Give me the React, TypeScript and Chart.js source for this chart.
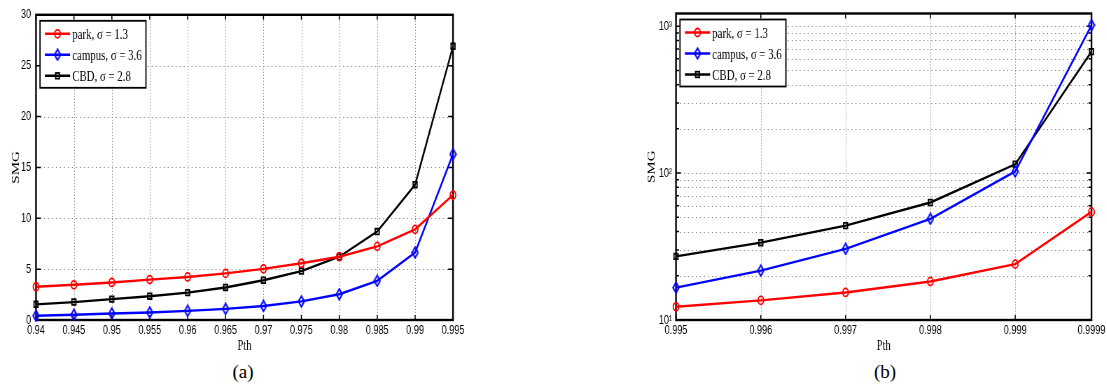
import React, { useEffect, useRef } from 'react';
import { Chart, registerables } from 'chart.js';

Chart.register(...registerables);

// horizontal squeeze of the original figure
const SX = 0.7;

// ---------- data: panel (a) ----------
const pthA = [0.94, 0.945, 0.95, 0.955, 0.96, 0.965, 0.97, 0.975, 0.98, 0.985, 0.99, 0.995];
const xLabelsA = ['0.94', '0.945', '0.95', '0.955', '0.96', '0.965', '0.97', '0.975', '0.98', '0.985', '0.99', '0.995'];
const parkA = [3.27, 3.46, 3.69, 3.97, 4.23, 4.58, 5.03, 5.58, 6.22, 7.24, 8.91, 12.28];
const campusA = [0.42, 0.51, 0.64, 0.74, 0.9, 1.09, 1.38, 1.83, 2.53, 3.85, 6.63, 16.3];
const cbdA = [1.54, 1.76, 2.05, 2.34, 2.69, 3.2, 3.91, 4.81, 6.22, 8.69, 13.3, 26.9];
const yTicksA = [0, 5, 10, 15, 20, 25, 30];

// ---------- data: panel (b) ----------
const pthB = [0.995, 0.996, 0.997, 0.998, 0.999, 0.9999];
const xLabelsB = ['0.995', '0.996', '0.997', '0.998', '0.999', '0.9999'];
const parkB = [12.3, 13.6, 15.4, 18.3, 24.0, 54.4];
const campusB = [16.6, 21.7, 30.5, 48.8, 102.6, 1016];
const cbdB = [27.1, 33.6, 43.9, 63.1, 114.8, 671];
const yMajorB = [10, 100, 1000];
const yMajorLabelsB = ['10\u00b9', '10\u00b2', '10\u00b3'];
const yMinorB = [20, 30, 40, 50, 60, 70, 80, 90, 200, 300, 400, 500, 600, 700, 800, 900];

const legendLabels = ['park, \u03c3 = 1.3', 'campus, \u03c3 = 3.6', 'CBD, \u03c3 = 2.8'];

const SERIF = '"Liberation Serif", "Times New Roman", serif';
const SANS = '"Liberation Sans", Arial, sans-serif';

type Marker = 'circle' | 'diamond' | 'square';
type Series = { label: string; color: string; marker: Marker; values: number[] };
type Spec = {
  xs: number[];
  xLabels: string[];
  xMin: number;
  xMax: number;
  yType: 'linear' | 'logarithmic';
  yMin: number;
  yMax: number;
  yTicks: { value: number; major: boolean }[];
  yLabel: (v: number) => string;
  series: Series[];
  canvasW: number;
  yAxisW: number;
  padRight: number;
  yTitlePad: number;
  yTickPad: number;
};

let diamondCache: HTMLCanvasElement | null = null;
function diamondCanvas(): HTMLCanvasElement {
  if (diamondCache) return diamondCache;
  const c = document.createElement('canvas');
  c.width = 11;
  c.height = 13;
  const g = c.getContext('2d')!;
  g.strokeStyle = '#0000ff';
  g.lineWidth = 2;
  g.beginPath();
  g.moveTo(5.5, 1.2);
  g.lineTo(9.8, 6.5);
  g.lineTo(5.5, 11.8);
  g.lineTo(1.2, 6.5);
  g.closePath();
  g.stroke();
  diamondCache = c;
  return c;
}

function drawMarker(ctx: CanvasRenderingContext2D, m: Marker, x: number, y: number, color: string) {
  ctx.save();
  ctx.strokeStyle = color;
  ctx.lineWidth = 1.8;
  if (m === 'circle') {
    ctx.beginPath();
    ctx.arc(x, y, 4, 0, Math.PI * 2);
    ctx.stroke();
  } else if (m === 'square') {
    ctx.strokeRect(x - 2.8, y - 2.8, 5.6, 5.6);
  } else {
    const d = diamondCanvas();
    ctx.drawImage(d, x - d.width / 2, y - d.height / 2);
  }
  ctx.restore();
}

function makeSeries(park: number[], campus: number[], cbd: number[]): Series[] {
  return [
    { label: legendLabels[0], color: '#ff0000', marker: 'circle', values: park },
    { label: legendLabels[1], color: '#0000ff', marker: 'diamond', values: campus },
    { label: legendLabels[2], color: '#000000', marker: 'square', values: cbd },
  ];
}

const specA: Spec = {
  xs: pthA,
  xLabels: xLabelsA,
  xMin: 0.94,
  xMax: 0.995,
  yType: 'linear',
  yMin: 0,
  yMax: 30,
  yTicks: yTicksA.map((v) => ({ value: v, major: true })),
  yLabel: (v) => String(v),
  series: makeSeries(parkA, campusA, cbdA),
  canvasW: 700,
  yAxisW: 36 / SX,
  padRight: 700 - 453 / SX,
  yTitlePad: 14,
  yTickPad: 7,
};

const specB: Spec = {
  xs: pthB,
  xLabels: xLabelsB,
  xMin: 0.995,
  xMax: 0.9999,
  yType: 'logarithmic',
  yMin: 10,
  yMax: 1220,
  yTicks: [
    ...yMajorB.map((v) => ({ value: v, major: true })),
    ...yMinorB.map((v) => ({ value: v, major: false })),
  ].sort((a, b) => a.value - b.value),
  yLabel: (v) => {
    const i = yMajorB.indexOf(v);
    return i >= 0 ? yMajorLabelsB[i] : '';
  },
  series: makeSeries(parkB, campusB, cbdB),
  canvasW: 725,
  yAxisW: (676 - 600) / SX,
  padRight: 725 - (1092 - 600) / SX,
  yTitlePad: 65,
  yTickPad: 5.7,
};

function buildChart(canvas: HTMLCanvasElement, spec: Spec) {
  const datasets = spec.series.map((s) => ({
    label: s.label,
    data: spec.xs.map((x, i) => ({ x, y: s.values[i] })),
    borderColor: s.color,
    backgroundColor: 'rgba(0,0,0,0)',
    borderWidth: 2.4,
    pointStyle: s.marker === 'circle' ? 'circle' : s.marker === 'square' ? 'rect' : diamondCanvas(),
    pointRadius: s.marker === 'square' ? 4 : 4,
    pointBorderWidth: 1.8,
    pointBorderColor: s.color,
    pointBackgroundColor: 'rgba(0,0,0,0)',
    tension: 0,
    clip: false as any,
  }));

  const frame = {
    id: 'matlabFrame',
    beforeDatasetsDraw(chart: any) {
      const { ctx, chartArea: a } = chart;
      const xs = chart.scales.x;
      const ys = chart.scales.y;
      ctx.save();
      // dotted grid
      ctx.strokeStyle = '#7a7a7a';
      ctx.lineWidth = 1;
      ctx.setLineDash([1, 2]);
      for (const t of xs.ticks) {
        const p = Math.round(xs.getPixelForValue(t.value)) + 0.5;
        if (p < a.left + 2 || p > a.right - 2) continue;
        ctx.beginPath();
        ctx.moveTo(p, a.top);
        ctx.lineTo(p, a.bottom);
        ctx.stroke();
      }
      ctx.setLineDash([1.4, 4.3]);
      for (const t of ys.ticks) {
        const p = Math.round(ys.getPixelForValue(t.value)) + 0.5;
        if (p < a.top + 2 || p > a.bottom - 2) continue;
        ctx.beginPath();
        ctx.moveTo(a.left, p);
        ctx.lineTo(a.right, p);
        ctx.stroke();
      }
      ctx.setLineDash([]);
      // inward tick marks
      ctx.strokeStyle = '#000';
      ctx.lineWidth = 1.5;
      for (const t of xs.ticks) {
        const p = xs.getPixelForValue(t.value);
        ctx.beginPath();
        ctx.moveTo(p, a.top);
        ctx.lineTo(p, a.top + 5);
        ctx.moveTo(p, a.bottom);
        ctx.lineTo(p, a.bottom - 5);
        ctx.stroke();
      }
      for (const t of ys.ticks) {
        const p = ys.getPixelForValue(t.value);
        const len = t.major ? 7 : 4.3;
        ctx.beginPath();
        ctx.moveTo(a.left, p);
        ctx.lineTo(a.left + len, p);
        ctx.moveTo(a.right, p);
        ctx.lineTo(a.right - len, p);
        ctx.stroke();
      }
      // box
      ctx.lineWidth = 2.4;
      ctx.strokeRect(a.left, a.top, a.right - a.left, a.bottom - a.top);
      ctx.restore();
    },
    afterDraw(chart: any) {
      const { ctx, chartArea: a } = chart;
      ctx.save();
      ctx.font = `15.5px ${SERIF}`;
      let tw = 0;
      for (const s of spec.series) tw = Math.max(tw, ctx.measureText(s.label).width);
      const x0 = a.left + 4 / SX;
      const y0 = a.top + 6;
      const w = 46 + tw + 6;
      const h = 67;
      ctx.fillStyle = '#fff';
      ctx.fillRect(x0, y0, w, h);
      ctx.strokeStyle = '#000';
      ctx.lineWidth = 1.8;
      ctx.strokeRect(x0, y0, w, h);
      spec.series.forEach((s, i) => {
        const yy = y0 + 13 + i * 21;
        ctx.strokeStyle = s.color;
        ctx.lineWidth = 2.4;
        ctx.beginPath();
        ctx.moveTo(x0 + 7, yy);
        ctx.lineTo(x0 + 43, yy);
        ctx.stroke();
        drawMarker(ctx, s.marker, x0 + 25, yy, s.color);
        ctx.fillStyle = '#000';
        ctx.textBaseline = 'middle';
        ctx.textAlign = 'left';
        ctx.fillText(s.label, x0 + 46, yy + 1);
      });
      ctx.restore();
    },
  };

  return new Chart(canvas, {
    type: 'line',
    data: { datasets: datasets as any },
    options: {
      responsive: false,
      maintainAspectRatio: false,
      animation: false,
      events: [],
      devicePixelRatio: 1,
      layout: { padding: { left: 0, right: spec.padRight, top: 7, bottom: 0 } },
      plugins: { legend: { display: false }, tooltip: { enabled: false } },
      scales: {
        x: {
          type: 'linear',
          min: spec.xMin,
          max: spec.xMax,
          bounds: 'data',
          afterBuildTicks: (s: any) => {
            s.ticks = spec.xs.map((v) => ({ value: v }));
          },
          afterFit: (s: any) => {
            s.height = 40;
          },
          grid: { display: false, drawTicks: false },
          border: { display: false },
          ticks: {
            autoSkip: false,
            maxRotation: 0,
            minRotation: 0,
            padding: 3,
            color: '#000',
            font: { family: SANS, size: 13 },
            callback: (_v: any, i: number) => spec.xLabels[i],
          },
          title: {
            display: true,
            text: 'Pth',
            color: '#000',
            font: { family: SERIF, size: 15 },
            padding: { top: 0, bottom: 5 },
          },
        },
        y: {
          type: spec.yType,
          min: spec.yMin,
          max: spec.yMax,
          bounds: 'data',
          afterBuildTicks: (s: any) => {
            s.ticks = spec.yTicks.map((t) => ({ value: t.value, major: t.major }));
          },
          afterFit: (s: any) => {
            s.width = spec.yAxisW;
          },
          grid: { display: false, drawTicks: false },
          border: { display: false },
          ticks: {
            autoSkip: false,
            padding: spec.yTickPad,
            color: '#000',
            font: { family: SANS, size: 13 },
            callback: (v: any) => spec.yLabel(Number(v)),
          },
          title: {
            display: true,
            text: 'SMG',
            color: '#000',
            font: { family: SERIF, size: 15 },
            padding: { top: spec.yTitlePad, bottom: 0 },
          },
        } as any,
      },
    },
    plugins: [frame],
  });
}

function Panel({ spec, left }: { spec: Spec; left: number }) {
  const ref = useRef<HTMLCanvasElement | null>(null);
  useEffect(() => {
    if (!ref.current) return;
    const chart = buildChart(ref.current, spec);
    return () => chart.destroy();
  }, [spec]);
  return (
    <div
      style={{
        position: 'absolute',
        left,
        top: 0,
        width: spec.canvasW,
        height: 360,
        transform: `scaleX(${SX})`,
        transformOrigin: '0 0',
      }}
    >
      <canvas ref={ref} width={spec.canvasW} height={360} style={{ display: 'block' }} />
    </div>
  );
}

export default function App() {
  const capStyle: React.CSSProperties = {
    position: 'absolute',
    top: 361,
    textAlign: 'center',
    fontFamily: SERIF,
    fontSize: 19,
    lineHeight: '22px',
    color: '#000',
  };
  return (
    <div
      style={{
        position: 'absolute',
        left: 0,
        top: 0,
        width: 1107,
        height: 388,
        background: '#fff',
        overflow: 'hidden',
      }}
    >
      <Panel spec={specA} left={0} />
      <Panel spec={specB} left={600} />
      <div style={{ ...capStyle, left: 0, width: 486 }}>(a)</div>
      <div style={{ ...capStyle, left: 785, width: 200 }}>(b)</div>
    </div>
  );
}
